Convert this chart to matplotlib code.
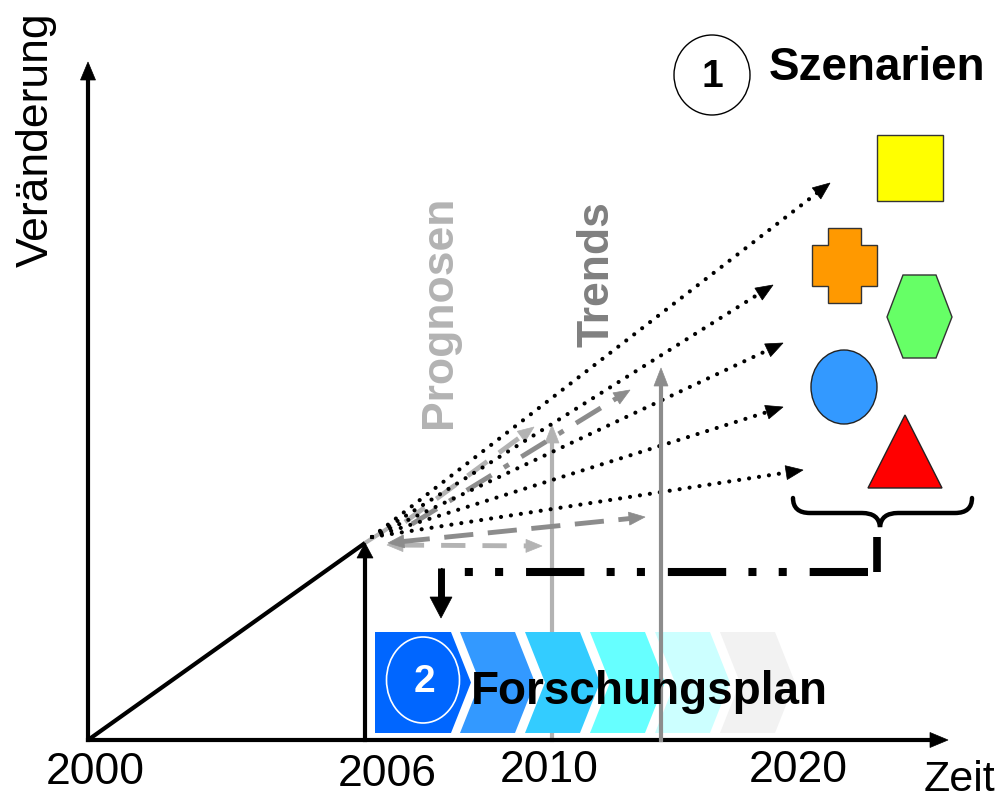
"""
Szenarien / Prognosen / Trends -> Forschungsplan, as a pixel-space diagram.
"""
import numpy as np
import matplotlib
matplotlib.use("Agg")
import matplotlib.pyplot as plt
from matplotlib import font_manager
from matplotlib.patches import Polygon, Ellipse, Rectangle, PathPatch
from matplotlib.path import Path

W, H = 1006, 798

# ---- data (pixel positions of the sketch, y downwards) ----
origin = (88, 740)
y_axis_tip = (88, 62)
x_axis_tip = (948, 740)
now_point = (365, 543)            # 2006 on the growth line

year_labels = ["2000", "2006", "2010", "2020"]
year_label_x = [95, 387, 549, 798]
year_label_y = [773, 775, 770, 770]

# dotted scenario rays: start -> arrow tip
scenario_start = (372, 537)
scenario_tips = [(830, 183), (773, 285), (783, 343), (783, 407), (803, 470)]

# grey forecasts (Prognosen) and trends
light_h = [(387, 545), (542, 546)]
dark_h = [(388, 543), (645, 517)]
light_diag = [(405, 522), (534, 427)]
dark_diag = [(412, 524), (630, 390)]
light_vert_x, light_vert_top = 552, 425
dark_vert_x, dark_vert_top = 661, 368

# feedback line from the scenarios to the research plan
feedback_y = 572
feedback_x = [441, 868]
stem_x, stem_top = 877, 537
down_arrow_tip = 618

# chevrons of the Forschungsplan
chev_colors = ["#0066ff", "#3399ff", "#33ccff", "#66ffff", "#ccffff", "#f2f2f2"]
chev_left = [375, 460, 525, 590, 655, 720]
chev_top, chev_bot = 632, 733

# scenario shapes
square = (877, 135, 66, 66)
cross_outer = (812, 228, 877, 303)
cross_inner = (828, 245, 861, 286)
hexagon = [(887, 317), (903, 275), (936, 275), (952, 317), (936, 358), (903, 358)]
circle = (844, 387, 66, 74)
triangle = [(905, 415), (868, 488), (942, 488)]

LIGHT = "#b3b3b3"
DARK = "#8c8c8c"

names = {f.name for f in font_manager.fontManager.ttflist}
SANS = "Liberation Sans" if "Liberation Sans" in names else "DejaVu Sans"


def head(ax, tail, tip, color, length=16, width=14, z=5):
    (x0, y0), (x1, y1) = tail, tip
    d = np.array([x1 - x0, y1 - y0], float)
    u = d / np.hypot(*d)
    p = np.array([-u[1], u[0]])
    base = np.array(tip) - u * length
    pts = [tip, base + p * width / 2, base - p * width / 2]
    ax.add_patch(Polygon(pts, closed=True, fc=color, ec=color, lw=0.5, zorder=z))


def shaft_end(tail, tip, length):
    d = np.array(tip, float) - np.array(tail, float)
    u = d / np.hypot(*d)
    return tuple(np.array(tip) - u * length * 0.8)


def arrow(ax, tail, tip, color, lw, ls="-", length=16, width=14, z=4, both=False, **kw):
    a = shaft_end(tip, tail, length) if both else tail
    b = shaft_end(tail, tip, length)
    ax.plot([a[0], b[0]], [a[1], b[1]], color=color, lw=lw, ls=ls, zorder=z, **kw)
    head(ax, tail, tip, color, length, width, z + 0.1)
    if both:
        head(ax, tip, tail, color, length, width, z + 0.1)


fig = plt.figure(figsize=(W / 100, H / 100), dpi=100)
ax = fig.add_axes([0, 0, 1, 1])
ax.set_xlim(0, W)
ax.set_ylim(H, 0)
ax.axis("off")

# axes
arrow(ax, origin, y_axis_tip, "black", 3, length=18, width=15, z=6)
arrow(ax, origin, x_axis_tip, "black", 3, length=18, width=15, z=6)
ax.text(36, 140, "Veränderung", rotation=90, ha="center", va="center",
        fontsize=32, family=SANS)
for lab, x, y in zip(year_labels, year_label_x, year_label_y):
    ax.text(x, y, lab, ha="center", va="center", fontsize=32, family=SANS)
ax.text(924, 780, "Zeit", ha="left", va="center", fontsize=31, family=SANS)

# growth until today
ax.plot([origin[0], now_point[0]], [origin[1], now_point[1]], color="black", lw=3,
        zorder=6, solid_capstyle="butt")
ax.plot([now_point[0], 390], [now_point[1], 527], color=LIGHT, lw=3, zorder=3)
arrow(ax, (now_point[0], origin[1]), now_point, "black", 3, length=15, width=16, z=6)

# vertical trend arrows (light one behind the chevrons)
arrow(ax, (light_vert_x, origin[1]), (light_vert_x, light_vert_top), LIGHT, 3,
      length=18, width=14, z=1)
arrow(ax, (dark_vert_x, origin[1]), (dark_vert_x, dark_vert_top), DARK, 3,
      length=18, width=14, z=8)

# Prognosen: dashed grey arrows
arrow(ax, light_h[0], light_h[1], LIGHT, 3.5, ls=(0, (5, 3.5)), length=16, width=13,
      z=3, both=True)
arrow(ax, dark_h[0], dark_h[1], DARK, 3.5, ls=(0, (6, 3)), length=16, width=13,
      z=3, both=True)
arrow(ax, light_diag[0], light_diag[1], LIGHT, 3.5, ls=(0, (5, 3)), length=16, width=13, z=3)
arrow(ax, dark_diag[0], dark_diag[1], DARK, 3.5, ls=(0, (6, 3, 1.2, 3)), length=16,
      width=13, z=3)

# dotted scenario rays
for tip in scenario_tips:
    end = shaft_end(scenario_start, tip, 16)
    ax.plot([scenario_start[0], end[0]], [scenario_start[1], end[1]], color="black",
            lw=3, ls=(0, (0.01, 2.4)), dash_capstyle="round", zorder=4)
    head(ax, scenario_start, tip, "black", length=17, width=14, z=4.1)

ax.text(440, 312, "Prognosen", rotation=90, ha="center", va="center", fontsize=32,
        fontweight="bold", family=SANS, color=LIGHT)
ax.text(597, 274, "Trends", rotation=90, ha="center", va="center", fontsize=32,
        fontweight="bold", family=SANS, color="#808080")

# scenario shapes
ax.add_patch(Rectangle(square[:2], square[2], square[3], fc="#ffff00", ec="#333333", lw=1))
x0, y0, x1, y1 = cross_outer
ix0, iy0, ix1, iy1 = cross_inner
cross = [(ix0, y0), (ix1, y0), (ix1, iy0), (x1, iy0), (x1, iy1), (ix1, iy1), (ix1, y1),
         (ix0, y1), (ix0, iy1), (x0, iy1), (x0, iy0), (ix0, iy0)]
ax.add_patch(Polygon(cross, closed=True, fc="#ff9900", ec="#333333", lw=1))
ax.add_patch(Polygon(hexagon, closed=True, fc="#66ff66", ec="#333333", lw=1))
ax.add_patch(Ellipse(circle[:2], circle[2], circle[3], fc="#3399ff", ec="#222222", lw=1))
ax.add_patch(Polygon(triangle, closed=True, fc="#ff0000", ec="#222222", lw=1))

# brace under the shapes
brace = Path([(793, 498), (793, 513), (810, 513), (862, 513), (879, 513), (880, 527),
              (881, 513), (898, 513), (955, 513), (972, 513), (972, 498)],
             [Path.MOVETO, Path.CURVE3, Path.CURVE3, Path.LINETO, Path.CURVE3, Path.CURVE3,
              Path.CURVE3, Path.CURVE3, Path.LINETO, Path.CURVE3, Path.CURVE3])
ax.add_patch(PathPatch(brace, fc="none", ec="black", lw=3.2, capstyle="round"))

# feedback: brace stem, dash-dot-dot line, arrow down to the plan
ax.plot([stem_x, stem_x], [stem_top, feedback_y], color="black", lw=5.5,
        solid_capstyle="butt")
plt.rcParams["lines.scale_dashes"] = False
ax.plot([feedback_x[1], feedback_x[0]], [feedback_y, feedback_y], color="black", lw=5.8,
        ls=(0, (42, 16.5, 5.8, 16, 5.8, 16)), dash_capstyle="butt", zorder=5)
plt.rcParams["lines.scale_dashes"] = True
ax.plot([feedback_x[0], feedback_x[0]], [feedback_y - 4, down_arrow_tip - 18],
        color="black", lw=5, solid_capstyle="butt", zorder=5)
head(ax, (feedback_x[0], feedback_y), (feedback_x[0], down_arrow_tip), "black",
     length=21, width=22, z=5)

# chevrons
mid = (chev_top + chev_bot) / 2
for i, (x, c) in enumerate(zip(chev_left, chev_colors)):
    if i == 0:
        pts = [(x, chev_top), (451, chev_top), (471, mid), (451, chev_bot), (x, chev_bot)]
    else:
        pts = [(x, chev_top), (x + 55, chev_top), (x + 75, mid), (x + 55, chev_bot),
               (x, chev_bot), (x + 20, mid)]
    ax.add_patch(Polygon(pts, closed=True, fc=c, ec="none", zorder=2))

ax.add_patch(Ellipse((423, 680), 73, 86, fc="none", ec="white", lw=1.2, zorder=9))
ax.text(424, 682, "2", ha="center", va="center", fontsize=28, fontweight="bold",
        family=SANS, color="white", zorder=9)
ax.text(471, 704, "Forschungsplan", ha="left", va="baseline", fontsize=33,
        fontweight="bold", family=SANS, zorder=9)

# scenario title
ax.add_patch(Ellipse((712, 75), 76, 80, fc="white", ec="black", lw=1))
ax.text(712, 77, "1", ha="center", va="center", fontsize=28, fontweight="bold", family=SANS)
ax.text(769, 68, "Szenarien", ha="left", va="center", fontsize=33, fontweight="bold",
        family=SANS)

fig.savefig("out.png", dpi=100)
